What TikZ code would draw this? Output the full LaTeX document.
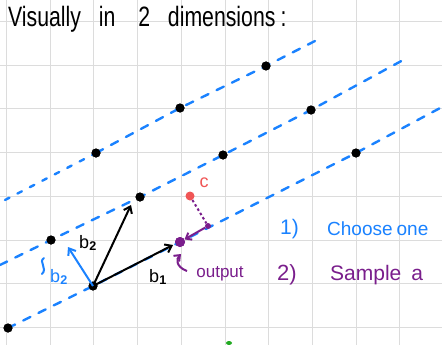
\documentclass[tikz,border=0pt]{standalone}
\usepackage{fontspec}
\setmainfont{Liberation Sans}
\usetikzlibrary{arrows.meta}
\definecolor{gridc}{HTML}{DCDCDC}
\definecolor{lblue}{HTML}{1A82FF}
\definecolor{lpurple}{HTML}{7A1E8C}
\definecolor{lred}{HTML}{F05555}
\definecolor{lgreen}{HTML}{22AA22}
\tikzset{
  gridline/.style={draw=gridc, line width=1pt},
  latline/.style={draw=lblue, line width=2.4pt, line cap=round, dash pattern=on 8pt off 9pt},
  latlinedot/.style={draw=lblue, line width=2.4pt, line cap=round, dash pattern=on 5pt off 9pt},
  latpt/.style={circle, fill=black, inner sep=0pt, minimum size=9pt},
  vec/.style={line width=2pt, -{Straight Barb[length=6pt,width=9pt,line width=2pt]}},
  hand/.style={inner sep=0pt, anchor=center},
}
\begin{document}
\begin{tikzpicture}[x=1pt,y=-1pt]
\useasboundingbox (0,0) rectangle (442,345);
\fill[white] (0,0) rectangle (442,345);
\begin{scope}
\clip (0,0) rectangle (442,345);
% grid
\foreach \gx in {6.5,50.2,93.9,137.6,181.3,225,268.7,312.4,356.1,399.8,443.5}
  \draw[gridline] (\gx,0) -- (\gx,345);
\foreach \gy in {21.5,65.2,108.9,152.6,196.3,240,283.7,327.4}
  \draw[gridline] (0,\gy) -- (442,\gy);

% lattice line endpoints
\coordinate (a0) at (5,200);
\coordinate (a1) at (315,41);
\coordinate (bb0) at (0,265);
\coordinate (bb1) at (405,59);
\coordinate (c1) at (442,107);

% lattice points
\node[latpt] (p1) at (96,153) {};
\node[latpt] (p2) at (180,108) {};
\node[latpt] (p3) at (266,66) {};
\node[latpt] (q1) at (51,240) {};
\node[latpt] (q2) at (140,197) {};
\node[latpt] (q3) at (223,155) {};
\node[latpt] (q4) at (311,110) {};
\node[latpt] (r0) at (8,328) {};
\node[latpt] (o) at (93,286) {};
\node[latpt] (r3) at (356,153) {};
\node[circle, fill=lpurple, inner sep=0pt, minimum size=10pt] (out) at (180,242) {};

% dashed lattice lines
\draw[latlinedot] (a0) -- (p1.center);
\draw[latline] (p1.center) -- (p2.center) -- (p3.center) -- (a1);
\draw[latline] (bb0) -- (q1.center) -- (q2.center) -- (q3.center) -- (q4.center) -- (bb1);
\draw[latline] (r0.center) -- (o.center) -- (out.center) -- (r3.center) -- (c1);

% redraw dots on top
\foreach \n in {p1,p2,p3,q1,q2,q3,q4,r0,o,r3}
  \fill (\n) circle (4.5pt);
\fill[lpurple] (out) circle (5pt);

% basis vectors
\coordinate (b1tip) at (173,245);
\coordinate (b2tip) at (131,205);
\coordinate (bt2tip) at (68,247);
\draw[vec] (o.center) -- (b1tip);
\draw[vec] (o.center) -- (b2tip);
\draw[vec, draw=lblue] (o.center) -- (bt2tip);

\node[hand, font=\fontsize{18}{18}\selectfont] (lb2) at (88,243) {b$_{\mathbf 2}$};
\node[hand, font=\fontsize{18}{18}\selectfont] (lb1) at (158,277) {b$_{\mathbf 1}$};
\node[hand, font=\fontsize{18}{18}\selectfont, text=lblue] (lbt) at (59,277) {b$_{\mathbf 2}$};
\draw[lblue, line width=2pt, line cap=round] (44,258) .. controls (38,262) and (48,268) .. (42,274);

% target c
\node[circle, fill=lred, inner sep=0pt, minimum size=9pt] (c) at (190,196) {};
\node[hand, text=lred, font=\fontsize{18}{18}\selectfont] (lc) at (204,183) {c};
\node[circle, fill=lpurple, inner sep=0pt, minimum size=6pt] (proj) at (208,226) {};
\draw[lpurple, line width=2pt, dash pattern=on 2.5pt off 2.5pt] (c) -- (proj);
\draw[lpurple, line width=2pt, -{Straight Barb[length=5pt,width=8pt,line width=2pt]}] (proj) -- (out);

% output label
\node[hand, text=lpurple, font=\fontsize{17}{17}\selectfont] (lout) at (220,274) {output};
\draw[lpurple, line width=2pt, -{Straight Barb[length=5pt,width=8pt,line width=2pt]}]
  (187,271) .. controls (176,267) and (176,259) .. (181,254);

% steps text
\node[hand, anchor=west, text=lblue, font=\fontsize{21}{21}\selectfont] (n1) at (280,229) {1)};
\node[hand, anchor=west, text=lblue, font=\fontsize{19}{19}\selectfont] (s1) at (327,229) {Choose\hspace{4pt}one};
\node[hand, anchor=west, text=lpurple, font=\fontsize{22}{22}\selectfont] (n2) at (277,275) {2)};
\node[hand, anchor=west, text=lpurple, font=\fontsize{21}{21}\selectfont] (s2) at (330,275) {Sample\hspace{10pt}a};

% title
\node[hand, anchor=west, font=\fontsize{25}{25}\selectfont] (title) at (8,19)
  {\scalebox{0.85}[1.12]{Visually\hspace{21pt}in\hspace{27pt}2\hspace{21pt}dimensions\hspace{6pt}:}};

% green mark
\fill[lgreen] (229,343) ellipse (3pt and 2pt);
\end{scope}
\end{tikzpicture}
\end{document}
